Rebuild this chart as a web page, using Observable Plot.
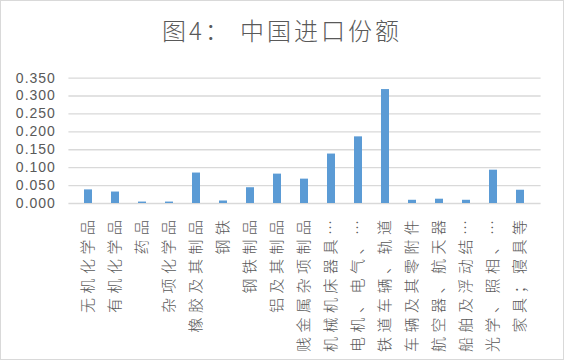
<!DOCTYPE html>
<html>
<head>
<meta charset="utf-8">
<script src="https://cdn.jsdelivr.net/npm/d3@7"></script>
<script src="https://cdn.jsdelivr.net/npm/@observablehq/plot@0.6"></script>
<style>
  html, body { margin: 0; padding: 0; background: #fff; }
  #wrap { width: 562px; height: 358px; border: 1px solid #d9d9d9; position: relative; overflow: hidden; background: #fff; }
  #title { height: 55px; line-height: 58px; text-align: center; font-family: "Noto Sans CJK SC", sans-serif; font-weight: 300; font-size: 24px; letter-spacing: 3px; color: #595959; }
  #chart svg { display: block; }
</style>
</head>
<body>
<div id="wrap">
  <div id="title">图4：&nbsp;中国进口份额</div>
  <div id="chart"></div>
</div>
<script>
const categories = ["无机化学品", "有机化学品", "药品", "杂项化学品", "橡胶及其制品", "钢铁", "钢铁制品", "铝及其制品", "贱金属杂项制品", "机械机床器具…", "电机、电气、…", "铁道车辆、轨道", "车辆及其零附件", "航空器、航天器", "船舶及浮动结…", "光学、照相、…", "家具；寝具等"];
const values = [0.038, 0.032, 0.004, 0.004, 0.085, 0.007, 0.044, 0.082, 0.068, 0.138, 0.186, 0.318, 0.009, 0.012, 0.009, 0.093, 0.037];
const yTicks = [0, 0.05, 0.10, 0.15, 0.20, 0.25, 0.30, 0.35];

const data = categories.map((c, i) => ({category: c, value: values[i]}));

const svg = Plot.plot({
  width: 562,
  height: 302,
  marginTop: 21.6,
  marginLeft: 67.4,
  marginRight: 22.4,
  marginBottom: 155,
  style: {fontFamily: "'Noto Sans CJK SC', sans-serif", color: "#595959", background: "transparent"},
  x: {domain: categories, paddingInner: 0.69, paddingOuter: 0.345, label: null},
  y: {domain: [0, 0.35], label: null},
  marks: [
    Plot.gridY(yTicks, {stroke: "#d9d9d9", strokeOpacity: 1, strokeWidth: 1.3}),
    Plot.barY(data, {x: "category", y: "value", fill: "#5b9bd5"}),
    Plot.axisY(yTicks, {tickSize: 0, tickPadding: 13, fontSize: 14, tickFormat: d3.format(".3f"), label: null}),
    Plot.axisX({tickSize: 0, tickRotate: -90, tickPadding: 12, fontSize: 15, label: null})
  ]
});
document.getElementById("chart").appendChild(svg);
d3.select(svg).selectAll('[aria-label="x-axis tick label"] text')
  .attr("letter-spacing", "4.5px")
  .attr("font-weight", 300);
d3.select(svg).selectAll('[aria-label="y-axis tick label"] text')
  .attr("font-family", "'Liberation Sans', sans-serif")
  .attr("letter-spacing", "1px");
</script>
</body>
</html>
